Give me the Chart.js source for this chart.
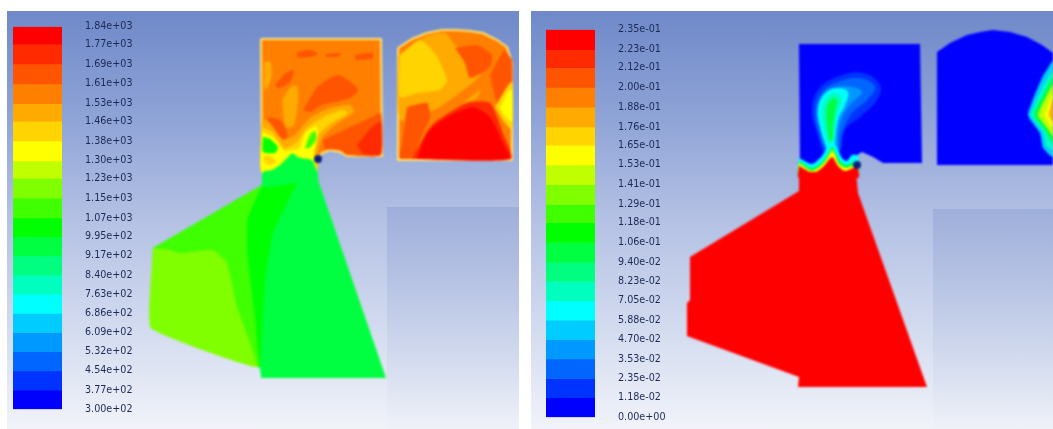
<!DOCTYPE html>
<html><head><meta charset="utf-8">
<script src="https://cdn.jsdelivr.net/npm/chart.js@4"></script>
<style>
html,body{margin:0;padding:0;background:#fff;width:1053px;height:429px;overflow:hidden}
#stage{position:absolute;left:0;top:0;width:1053px;height:429px;overflow:hidden}
.panel{position:absolute;top:11px;height:418px;background:linear-gradient(180deg,#6f89c9 0%,#8ea3d6 25%,#b4c1e4 50%,#d5ddf0 78%,#f1f3f9 100%)}
.ghost{position:absolute;background:linear-gradient(180deg,rgba(105,130,195,.25) 0%,rgba(130,150,205,.14) 55%,rgba(200,210,235,.03) 100%)}
canvas{position:absolute}
#field{filter:blur(1.1px)}
#barA,#barB{filter:blur(.65px)}
</style></head><body>
<div id="stage">
<div class="panel" style="left:7px;width:512px"></div>
<div class="panel" style="left:531px;width:522px"></div>
<div class="ghost" style="left:387px;top:207px;width:132px;height:222px"></div>
<div class="ghost" style="left:933px;top:209px;width:120px;height:220px"></div>
<canvas id="field" width="1053" height="429" style="left:0;top:0;width:1053px;height:429px"></canvas>
<canvas id="barA" width="130" height="440" style="left:13px;top:-2px;width:130px;height:440px"></canvas>
<canvas id="barB" width="130" height="445" style="left:546px;top:1px;width:130px;height:445px"></canvas>
</div>
<script>
// colour bands, top (max) to bottom (min)
const bands=['#ff0000','#ff2a00','#ff5500','#ff8000','#ffaa00','#ffd400','#ffff00','#bfff00','#80ff00','#40ff00','#00ff00','#00ff40','#00ff80','#00ffbf','#00ffff','#00ccff','#0099ff','#0066ff','#0033ff','#0000ff'];
const tickLabelsA=['1.84e+03','1.77e+03','1.69e+03','1.61e+03','1.53e+03','1.46e+03','1.38e+03','1.30e+03','1.23e+03','1.15e+03','1.07e+03','9.95e+02','9.17e+02','8.40e+02','7.63e+02','6.86e+02','6.09e+02','5.32e+02','4.54e+02','3.77e+02','3.00e+02'];
const tickLabelsB=['2.35e-01','2.23e-01','2.12e-01','2.00e-01','1.88e-01','1.76e-01','1.65e-01','1.53e-01','1.41e-01','1.29e-01','1.18e-01','1.06e-01','9.40e-02','8.23e-02','7.05e-02','5.88e-02','4.70e-02','3.53e-02','2.35e-02','1.18e-02','0.00e+00'];

// temperature field (left panel) contour regions
const aBox=[[261,39],[381,39],[382,156],[347,156],[340,152],[330,150],[322,153],[318,158],[316,172],[262,172]];
const aDome=[[398,48],[412,39],[427,33],[442,30],[457,30],[470,31],[483,33],[497,40],[507,47],[512,63],[512,160],[398,160]];
const aLower=[[262,160],[317,160],[318,180],[386,378],[261,378],[260,368],[151,328],[153,248],[262,185]];
const aWing=[[262,185],[153,248],[151,328],[260,368],[255,317],[247,250],[248,217]];
const aWingCore=[[153,248],[170,250],[180,253],[213,250],[227,263],[237,307],[257,367],[151,328]];
const aStrip=[[263,178],[297,178],[297,183],[273,233],[265,283],[260,367],[255,317],[247,250],[248,217],[262,187]];
const aPatchTop1=[[297,52],[310,50],[318,54],[310,57],[297,57]];
const aPatchTop2=[[326,54],[340,53],[340,56],[326,57]];
const aPatchTop3=[[355,55],[372,53],[373,58],[356,60]];
const aPatchLeft=[[275,85],[285,74],[294,70],[290,82],[279,88]];
const aPatchMid=[[303,110],[312,95],[317,87],[337,75],[348,80],[358,90],[350,98],[322,105],[310,112]];
const aPatchLow=[[268,117],[280,120],[286,130],[287,138],[278,138],[269,130]];
const aLight1=[[282,100],[290,88],[297,86],[298,100],[294,125],[286,127]];
const aLight2=[[264,62],[270,62],[272,75],[265,90]];
const aHotBox=[[323,140],[350,127],[372,117],[381,113],[381,155],[347,155],[340,150],[325,149]];
const aHotter=[[357,145],[372,127],[381,122],[381,154],[363,154]];
const aThroatOuter=[[262,118],[270,123],[283,140],[295,135],[310,118],[330,108],[350,105],[354,112],[335,125],[322,138],[318,152],[316,172],[262,172]];
const aThroatYellow=[[262,127],[272,132],[285,148],[297,142],[307,128],[325,116],[342,110],[348,113],[330,124],[318,135],[314,150],[316,172],[262,172]];
const aThroatLime=[[262,132],[274,138],[284,151],[300,148],[305,133],[316,126],[318,135],[314,155],[316,172],[262,172]];
const aLobeGreen=[[305,148],[310,135],[315,131],[316,140],[309,148]];
const aCornerGreen=[[263,137],[270,139],[278,147],[275,153],[263,152]];
const aHotSpot=[[264,156],[270,156],[276,162],[270,165],[264,162]];
const aJet=[[292,153],[300,158],[312,160],[317,172],[318,182],[297,183],[263,187],[263,172],[272,170],[280,165]];
const aDomeFringe=[[398,56],[425,37],[445,33],[455,45],[470,60],[480,75],[450,100],[430,112],[400,120]];
const aDomeYellow=[[400,55],[420,40],[436,55],[447,80],[440,90],[417,93],[400,97]];
const aDomeBlob=[[455,48],[477,45],[492,55],[490,67],[470,78],[465,63]];
const aDomeEdge=[[490,75],[504,50],[512,60],[512,87],[497,103]];
const aDomeRim=[[495,107],[507,87],[512,82],[512,130],[503,120]];
const aDomeRimCore=[[500,108],[508,92],[512,90],[512,122],[505,116]];
const aDomeLeft=[[407,107],[427,103],[430,117],[420,140],[413,158],[400,158],[402,143]];
const aDomeWarm=[[412,159],[432,125],[467,103],[490,103],[503,133],[511,159]];
const aDomeHot=[[417,159],[427,133],[447,117],[473,107],[490,117],[503,143],[510,159]];
const aDomeSpark=[[467,100],[480,90],[477,98],[463,103]];

// mixture fraction field (right panel) contour regions
const bBox=[[799,44],[920,44],[922,163],[883,163],[873,157],[862,152],[857,155],[857,170],[800,170]];
const bDome=[[937,52],[950,43],[967,35],[980,32],[993,30],[1010,32],[1027,37],[1042,45],[1053,53],[1053,165],[937,165]];
const bLower=[[799,172],[856,172],[858,193],[927,387],[798,387],[799,377],[687,336],[687,303],[690,300],[690,257],[799,191]];
const bPlume1=[[825,157],[817,133],[812,110],[818,90],[837,77],[863,73],[880,85],[877,100],[860,117],[845,130],[840,153],[833,157]];
const bPlume2=[[827,157],[818,130],[815,110],[822,92],[838,82],[860,78],[875,87],[867,100],[852,113],[842,133],[838,155]];
const bPlume3=[[828,155],[820,128],[818,108],[825,94],[838,87],[852,87],[862,92],[850,105],[842,118],[838,135],[837,155]];
const bPlume4=[[829,155],[820,127],[818,108],[825,93],[837,88],[848,92],[845,105],[838,120],[835,145],[835,155]];
const bPlume5=[[830,152],[823,123],[822,108],[828,96],[837,93],[842,100],[838,112],[835,125],[834,152]];
const bPlume6=[[830,148],[827,123],[827,107],[833,98],[837,100],[835,113],[833,130],[832,148]];
const bWave1=[[799,158],[812,164],[822,156],[828,146],[832,140],[836,146],[842,158],[847,161],[852,155],[858,156],[858,176],[799,176]];
const bWave2=[[799,161],[812,168],[823,161],[830,150],[832,146],[835,151],[840,161],[846,165],[856,162],[858,176],[799,176]];
const bWave3=[[799,163],[812,171],[823,164],[830,154],[832,150],[835,155],[839,164],[846,168],[857,165],[858,176],[799,176]];
const bWave4=[[799,166],[813,173],[823,167],[832,157],[838,166],[845,171],[857,167],[858,178],[799,178]];
const bEdge1=[[1053,60],[1042,78],[1028,115],[1040,133],[1043,148],[1053,157]];
const bEdge2=[[1053,70],[1044,85],[1031,115],[1043,132],[1047,146],[1053,150]];
const bEdge3=[[1053,76],[1046,90],[1034,115],[1045,130],[1053,143]];
const bEdge4=[[1053,84],[1047,95],[1038,115],[1047,128],[1053,136]];
const bEdge5=[[1053,92],[1045,115],[1053,128]];
const bEdge6=[[1053,98],[1049,115],[1053,122]];

const nozzleDots=[[318,159],[857,165]];

// layers: [region, band index, smoothing]
const layers=[
 [aLower,11,0],[aWing,9,0],[aWingCore,8,.1],[aStrip,10,.15],
 [aBox,3,0],[aLight2,4,.3],[aPatchTop1,2,.3],[aPatchTop2,2,.3],[aPatchTop3,2,.3],[aPatchLeft,2,.3],[aPatchMid,2,.3],[aPatchLow,2,.3],[aLight1,4,.3],
 [aHotBox,2,.15],[aHotter,1,.15],
 [aThroatOuter,4,.15],[aThroatYellow,5,.15],[aThroatLime,6,.15],[aLobeGreen,9,.3],[aCornerGreen,10,.2],[aHotSpot,5,.3],[aJet,11,.15],
 [aDome,3,0],[aDomeFringe,4,.2],[aDomeYellow,5,.2],[aDomeBlob,2,.2],[aDomeEdge,2,.1],[aDomeRim,5,.2],[aDomeRimCore,6,.2],[aDomeLeft,2,.2],[aDomeWarm,1,.2],[aDomeHot,0,.2],[aDomeSpark,4,.2],
 [bBox,19,0],[bPlume1,18,.4],[bPlume2,17,.4],[bPlume3,16,.4],[bPlume4,14,.4],[bPlume5,13,.4],[bPlume6,11,.4],
 [bWave1,14,.25],[bWave2,11,.25],[bWave3,6,.25],[bLower,0,0],[bWave4,0,.25],
 [bDome,19,0],[bEdge1,15,.15],[bEdge2,13,.15],[bEdge3,11,.15],[bEdge4,7,.15],[bEdge5,6,.15],[bEdge6,4,.15]
];
const rimmed=[aBox,aDome];
const rimColors=['#ffe26a','#ffe26a'];

const datasets=layers.map(([pts,b,t],i)=>{
  const r=rimmed.indexOf(pts);
  return {
    data:[...pts,pts[0]].map(([x,y])=>({x,y})),
    showLine:true,fill:'shape',backgroundColor:bands[b],
    borderColor:r>=0?rimColors[r]:bands[b],borderWidth:r>=0?2:0,
    tension:t,pointRadius:0,order:layers.length-i+1
  };
});
datasets.push({data:nozzleDots.map(([x,y])=>({x,y})),showLine:false,pointRadius:4,pointBackgroundColor:'#0b1f7a',pointBorderWidth:0,order:0});

new Chart(document.getElementById('field'),{
  type:'scatter',
  data:{datasets},
  options:{responsive:false,animation:false,events:[],layout:{padding:0,autoPadding:false},
    plugins:{legend:{display:false},tooltip:{enabled:false}},
    scales:{x:{type:'linear',display:false,min:0,max:1053},y:{type:'linear',display:false,min:0,max:429,reverse:true}}}
});

function colorbar(id,labels){
  const levels=labels.map(Number);
  const ds=bands.map((c,i)=>({data:[[levels[i+1],levels[i]]],backgroundColor:c,borderWidth:0,barPercentage:1,categoryPercentage:1}));
  new Chart(document.getElementById(id),{
    type:'bar',
    data:{labels:['level'],datasets:ds},
    options:{responsive:false,animation:false,events:[],layout:{padding:0},
      plugins:{legend:{display:false},tooltip:{enabled:false}},
      scales:{
        x:{display:false,stacked:true},
        y:{position:'right',min:levels[levels.length-1],max:levels[0],
           border:{display:false},grid:{display:false,drawTicks:false},
           afterBuildTicks(s){s.ticks=levels.slice().reverse().map(value=>({value}));},
           afterFit(s){s.width=81;},
           ticks:{autoSkip:false,padding:23,color:'#1c2a55',font:{family:'DejaVu Sans',size:9.6},
             callback(v,i){return labels[labels.length-1-i];}}
        }
      }}
  });
}
colorbar('barA',tickLabelsA);
colorbar('barB',tickLabelsB);
</script>
</body></html>
